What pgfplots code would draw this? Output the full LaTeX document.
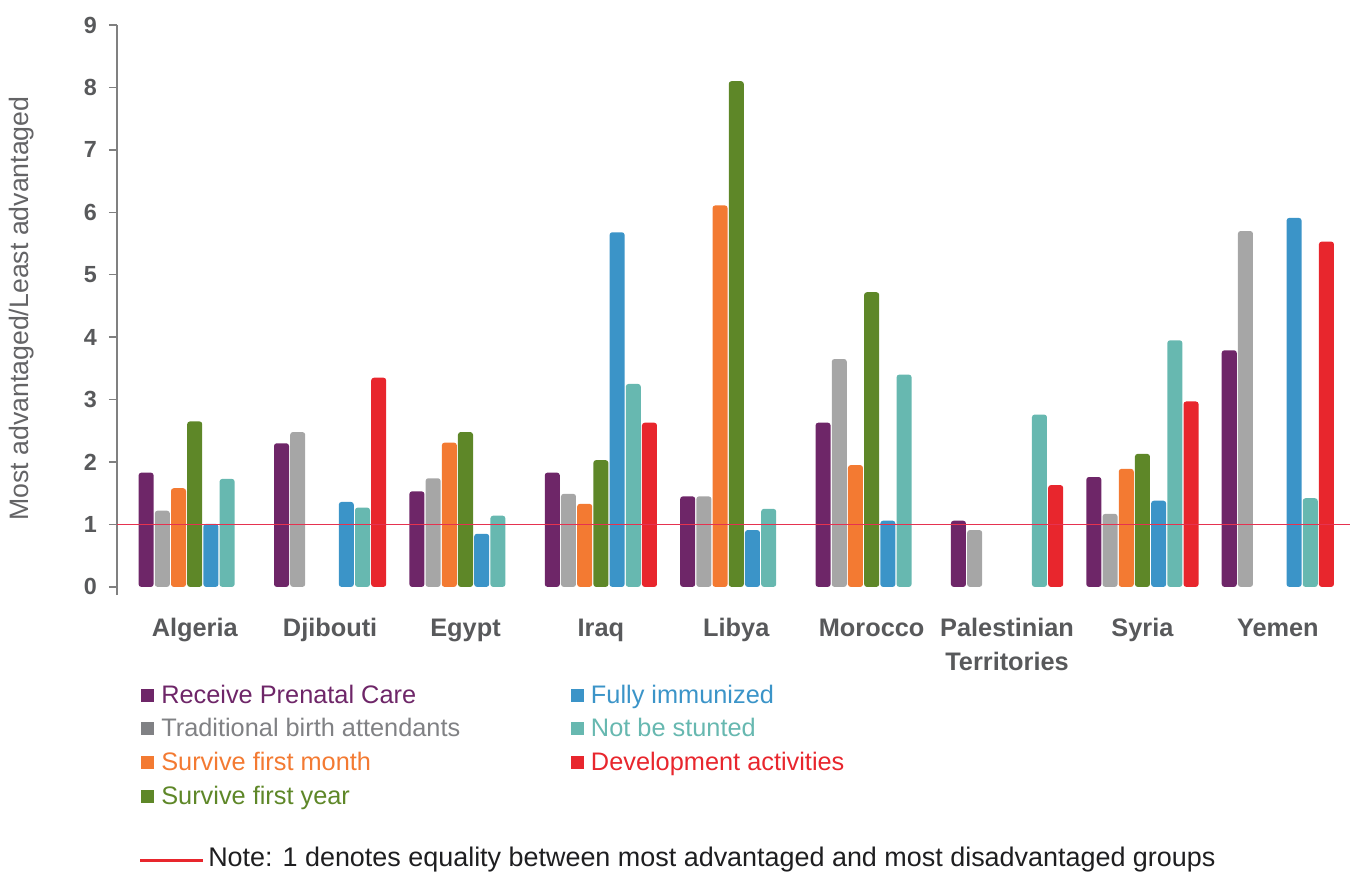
\documentclass[border=0pt]{standalone}
\usepackage{pgfplots}
\pgfplotsset{compat=1.18}
\usepackage{fontspec}
\setmainfont{Liberation Sans}
\definecolor{cPurple}{RGB}{110,38,104}
\definecolor{cGray}{RGB}{166,166,166}
\definecolor{cGrayLeg}{RGB}{128,129,132}
\definecolor{cOrange}{RGB}{243,122,50}
\definecolor{cGreen}{RGB}{94,135,40}
\definecolor{cBlue}{RGB}{59,148,200}
\definecolor{cTeal}{RGB}{103,184,176}
\definecolor{cRed}{RGB}{232,38,45}
\definecolor{cLine}{RGB}{230,50,80}
\definecolor{tickgray}{RGB}{88,89,91}
\definecolor{axisgray}{RGB}{128,128,128}
\definecolor{labgray}{RGB}{100,100,102}
\definecolor{notecolor}{RGB}{30,30,32}
\pgfplotsset{sq/.style={legend image code/.code={\path[draw=none,fill=none] (0pt,-1pt) rectangle (13pt,1pt);\fill[#1, draw=none] (0pt,-4.9pt) rectangle (9.75pt,4.9pt);}}}
\pgfplotsset{mybar/.style={draw=none, rounded corners=2pt, forget plot, bar width=0.1108}}
\begin{document}
\begin{tikzpicture}
\useasboundingbox (-87.75pt,-210pt) rectangle (930.75pt,446.25pt);
\begin{axis}[
  scale only axis,
  width=924.75pt, height=427.5pt,
  xmin=-0.574, xmax=8.533,
  ymin=-0.13, ymax=9,
  ybar, bar width=0.1108,
  axis lines=left,
  axis line style={-, draw=axisgray, line width=1.1pt},
  x axis line style={draw=none},
  xtick={0,...,8},
  xticklabels={Algeria,Djibouti,Egypt,Iraq,Libya,Morocco,{Palestinian\\Territories},Syria,Yemen},
  x tick style={draw=none},
  ytick={0,...,9},
  y tick style={draw=axisgray, line width=1.1pt},
  tick align=outside,
  major tick length=6pt,
  /pgf/number format/assume math mode=true,
  yticklabel style={font=\bfseries\fontsize{17.5}{17.5}\selectfont, text=tickgray, anchor=east, inner sep=0pt, xshift=-9pt},
  xticklabel style={font=\bfseries\fontsize{19}{25}\selectfont, text=tickgray, anchor=north, align=center, inner sep=0pt, yshift=-11.5pt},
  ylabel={Most advantaged/Least advantaged},
  every axis y label/.style={at={(axis description cs:-0.07705,0.5026)}, rotate=90, anchor=center, font=\fontsize{20}{20}\selectfont, text=labgray},
  legend columns=2,
  legend cell align=left,
  legend style={at={(axis description cs:0.0195,-0.1526)}, anchor=north west, draw=none, fill=none, inner sep=0pt,
    font=\fontsize{19}{22}\selectfont, row sep=6pt,
    /tikz/every even column/.append style={column sep=81pt}},
]
% Receive Prenatal Care
\addplot[mybar, fill=cPurple, bar shift=-0.359] coordinates {
(0,1.83) (1,2.30) (2,1.53) (3,1.83) (4,1.45) (5,2.63) (6,1.06) (7,1.76) (8,3.79)};
% Traditional birth attendants
\addplot[mybar, fill=cGray, bar shift=-0.2393] coordinates {
(0,1.22) (1,2.48) (2,1.74) (3,1.49) (4,1.45) (5,3.65) (6,0.91) (7,1.17) (8,5.70)};
% Survive first month
\addplot[mybar, fill=cOrange, bar shift=-0.11965] coordinates {
(0,1.58) (2,2.31) (3,1.33) (4,6.11) (5,1.95) (7,1.89)};
% Survive first year
\addplot[mybar, fill=cGreen, bar shift=0] coordinates {
(0,2.65) (2,2.48) (3,2.03) (4,8.10) (5,4.72) (7,2.13)};
% Fully immunized
\addplot[mybar, fill=cBlue, bar shift=0.11965] coordinates {
(0,1.01) (1,1.36) (2,0.85) (3,5.68) (4,0.91) (5,1.06) (7,1.38) (8,5.91)};
% Not be stunted
\addplot[mybar, fill=cTeal, bar shift=0.2393] coordinates {
(0,1.73) (1,1.27) (2,1.14) (3,3.25) (4,1.25) (5,3.40) (6,2.76) (7,3.95) (8,1.42)};
% Development activities
\addplot[mybar, fill=cRed, bar shift=0.359] coordinates {
(1,3.35) (3,2.63) (6,1.63) (7,2.97) (8,5.53)};
% equality line
\addplot[sharp plot, cLine, line width=1.1pt, forget plot] coordinates {(-0.574,1) (8.533,1)};
% legend
\addlegendimage{sq=cPurple}\addlegendentry{\textcolor{cPurple}{Receive Prenatal Care}}
\addlegendimage{sq=cBlue}\addlegendentry{\textcolor{cBlue}{Fully immunized}}
\addlegendimage{sq=cGrayLeg}\addlegendentry{\textcolor{cGrayLeg}{Traditional birth attendants}}
\addlegendimage{sq=cTeal}\addlegendentry{\textcolor{cTeal}{Not be stunted}}
\addlegendimage{sq=cOrange}\addlegendentry{\textcolor{cOrange}{Survive first month}}
\addlegendimage{sq=cRed}\addlegendentry{\textcolor{cRed}{Development activities}}
\addlegendimage{sq=cGreen}\addlegendentry{\textcolor{cGreen}{Survive first year}}
\end{axis}
\draw[cRed, line width=2.25pt] (17.25pt,-198.75pt) -- (64.5pt,-198.75pt);
\node[anchor=west, inner sep=0pt, font=\fontsize{20.2}{24}\selectfont, text=notecolor] at (68.25pt,-198.75pt) {Note: 1 denotes equality between most advantaged and most disadvantaged groups};
\end{tikzpicture}
\end{document}
